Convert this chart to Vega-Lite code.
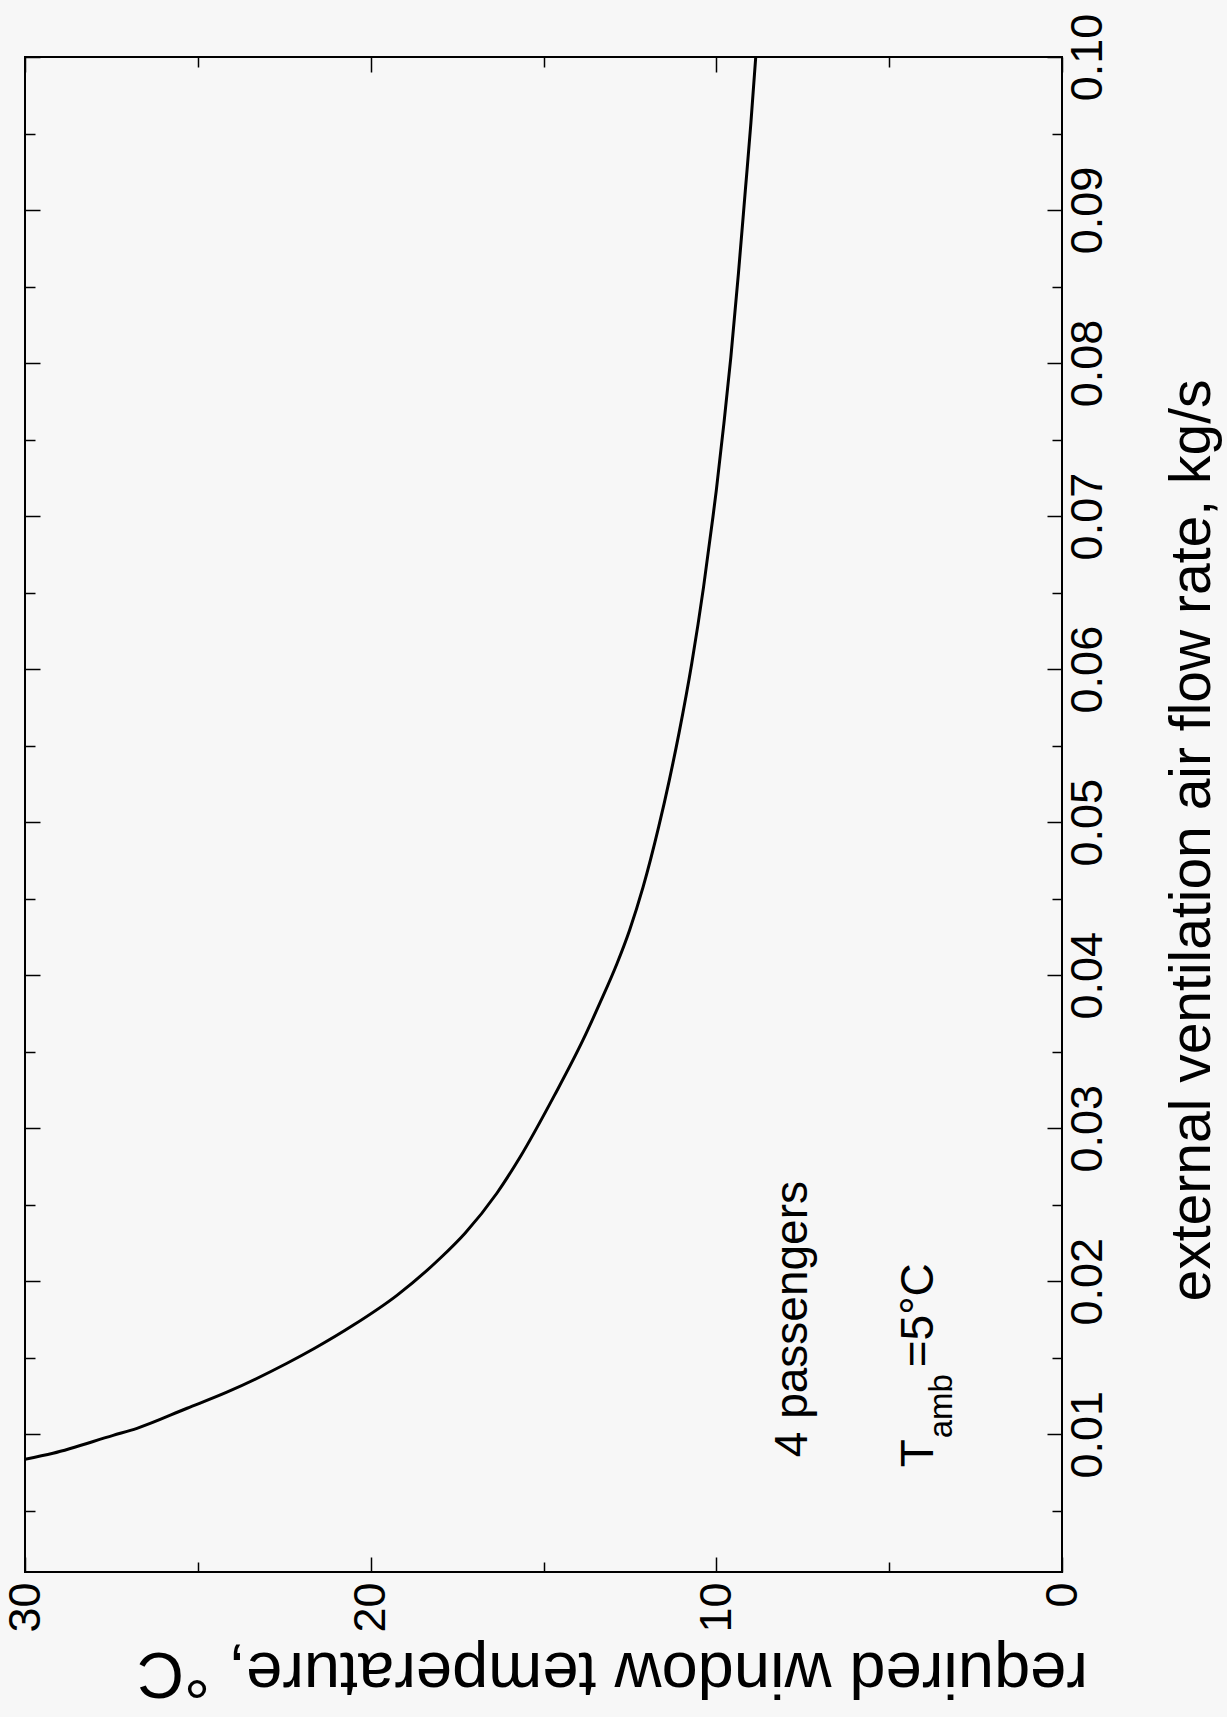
{
  "$schema": "https://vega.github.io/schema/vega-lite/v6.json",
  "width": 1037,
  "height": 1515,
  "autosize": {"type": "none"},
  "padding": {"left": 25, "top": 57, "right": 165, "bottom": 145},
  "background": "#f7f7f7",
  "config": {
    "font": "Liberation Sans",
    "view": {"stroke": "black", "strokeWidth": 2},
    "axis": {"grid": false, "domain": false, "tickColor": "black", "labelColor": "black", "titleColor": "black", "tickWidth": 1.5, "titleFontWeight": "normal", "labelFlush": false, "labelOverlap": false, "labelBound": false}
  },
  "datasets": {
    "curve": [
      {"flow": 0.00837, "temperature": 30.0},
      {"flow": 0.00876, "temperature": 29.19},
      {"flow": 0.00993, "temperature": 27.45},
      {"flow": 0.01039, "temperature": 26.76},
      {"flow": 0.0117, "temperature": 25.31},
      {"flow": 0.01275, "temperature": 24.16},
      {"flow": 0.01464, "temperature": 22.42},
      {"flow": 0.01562, "temperature": 21.62},
      {"flow": 0.01712, "temperature": 20.51},
      {"flow": 0.01908, "temperature": 19.24},
      {"flow": 0.0215, "temperature": 17.99},
      {"flow": 0.02314, "temperature": 17.27},
      {"flow": 0.02575, "temperature": 16.35},
      {"flow": 0.0281, "temperature": 15.68},
      {"flow": 0.03216, "temperature": 14.68},
      {"flow": 0.03575, "temperature": 13.86},
      {"flow": 0.03817, "temperature": 13.37},
      {"flow": 0.04078, "temperature": 12.87},
      {"flow": 0.04294, "temperature": 12.51},
      {"flow": 0.04575, "temperature": 12.12},
      {"flow": 0.04967, "temperature": 11.67},
      {"flow": 0.05275, "temperature": 11.36},
      {"flow": 0.05582, "temperature": 11.08},
      {"flow": 0.06039, "temperature": 10.71},
      {"flow": 0.06536, "temperature": 10.37},
      {"flow": 0.06974, "temperature": 10.11},
      {"flow": 0.0717, "temperature": 10.0},
      {"flow": 0.07608, "temperature": 9.78},
      {"flow": 0.08039, "temperature": 9.58},
      {"flow": 0.08588, "temperature": 9.36},
      {"flow": 0.09131, "temperature": 9.16},
      {"flow": 0.09569, "temperature": 9.0},
      {"flow": 0.1, "temperature": 8.86}
    ],
    "notes": [
      {"label": "4 passengers", "temperature": 7.38, "flow": 0.0085},
      {"label": "T", "temperature": 3.73, "flow": 0.00784},
      {"label": "=5°C", "temperature": 3.73, "flow": 0.01438}
    ],
    "subscripts": [
      {"label": "amb", "temperature": 3.18, "flow": 0.00974}
    ]
  },
  "layer": [
    {
      "data": {"name": "curve"},
      "mark": {"type": "line", "color": "black", "strokeWidth": 3, "interpolate": "monotone", "clip": true},
      "encoding": {
        "x": {
          "field": "temperature", "type": "quantitative",
          "scale": {"domain": [0, 30], "reverse": true, "nice": false, "zero": false},
          "axis": {
            "orient": "bottom",
            "values": [0, 5, 10, 15, 20, 25, 30],
            "labelExpr": "datum.value % 10 === 0 ? datum.label : ''",
            "labelAngle": 270, "labelAlign": "right", "labelBaseline": "middle",
            "labelFontSize": 45, "labelPadding": 25,
            "tickSize": {"condition": {"test": "datum.value % 10 === 0", "value": -15}, "value": -10},
            "title": "required window temperature, °C",
            "titleFontSize": 65, "titleAngle": 180, "titleAlign": "center", "titleBaseline": "alphabetic",
            "titleX": 587, "titleY": 80
          }
        },
        "y": {
          "field": "flow", "type": "quantitative",
          "scale": {"domain": [0.001, 0.1], "nice": false, "zero": false},
          "axis": {
            "orient": "right",
            "values": [0.005, 0.01, 0.015, 0.02, 0.025, 0.03, 0.035, 0.04, 0.045, 0.05, 0.055, 0.06, 0.065, 0.07, 0.075, 0.08, 0.085, 0.09, 0.095, 0.1],
            "labelExpr": "round(datum.value * 1000) % 10 === 0 ? format(datum.value, '.2f') : ''",
            "labelAngle": 270, "labelAlign": "center", "labelBaseline": "top",
            "labelFontSize": 45, "labelPadding": 18,
            "tickSize": {"condition": {"test": "round(datum.value * 1000) % 10 === 0", "value": -15}, "value": -10},
            "title": "external ventilation air flow rate, kg/s",
            "titleFontSize": 57, "titleAngle": 270, "titleAlign": "center", "titleBaseline": "alphabetic",
            "titleX": 147, "titleY": 783
          }
        },
        "order": {"field": "flow"}
      }
    },
    {
      "data": {"name": "curve"},
      "mark": {"type": "line", "opacity": 0},
      "encoding": {
        "x": {
          "field": "temperature", "type": "quantitative",
          "axis": {
            "orient": "top", "values": [0, 5, 10, 15, 20, 25, 30], "labels": false, "title": null,
            "tickSize": {"condition": {"test": "datum.value % 10 === 0", "value": -15}, "value": -10}
          }
        },
        "y": {
          "field": "flow", "type": "quantitative",
          "axis": {
            "orient": "left", "labels": false, "title": null,
            "values": [0.005, 0.01, 0.015, 0.02, 0.025, 0.03, 0.035, 0.04, 0.045, 0.05, 0.055, 0.06, 0.065, 0.07, 0.075, 0.08, 0.085, 0.09, 0.095, 0.1],
            "tickSize": {"condition": {"test": "round(datum.value * 1000) % 10 === 0", "value": -15}, "value": -10}
          }
        },
        "order": {"field": "flow"}
      }
    },
    {
      "data": {"name": "notes"},
      "mark": {"type": "text", "angle": 270, "align": "left", "baseline": "alphabetic", "fontSize": 46, "color": "black"},
      "encoding": {
        "x": {"field": "temperature", "type": "quantitative", "axis": null},
        "y": {"field": "flow", "type": "quantitative", "axis": null},
        "text": {"field": "label"}
      }
    },
    {
      "data": {"name": "subscripts"},
      "mark": {"type": "text", "angle": 270, "align": "left", "baseline": "alphabetic", "fontSize": 33, "color": "black"},
      "encoding": {
        "x": {"field": "temperature", "type": "quantitative", "axis": null},
        "y": {"field": "flow", "type": "quantitative", "axis": null},
        "text": {"field": "label"}
      }
    }
  ],
  "resolve": {"axis": {"x": "independent", "y": "independent"}}
}
